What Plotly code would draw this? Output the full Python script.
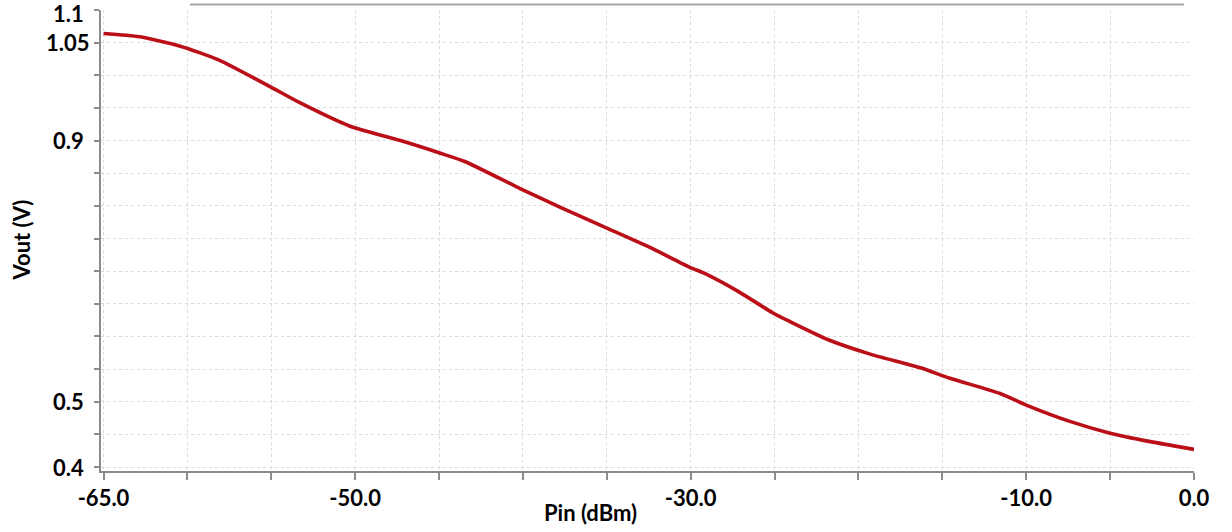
import plotly.graph_objects as go

# Data
pin_dbm = [-65.0, -62.85, -60.47, -58.08, -55.1, -53.3, -50.3, -47.3, -44.96, -43.47,
           -40.2, -37.8, -35.0, -32.4, -30.05, -29.2, -27.1, -25.1, -24.1, -21.8,
           -19.3, -16.3, -14.55, -11.6, -10.0, -7.4, -5.0, -2.6, 0.0]
vout_v = [1.064, 1.059, 1.045, 1.023, 0.983, 0.958, 0.922, 0.900, 0.881, 0.868,
          0.827, 0.798, 0.766, 0.736, 0.706, 0.697, 0.668, 0.636, 0.623, 0.595,
          0.573, 0.552, 0.536, 0.513, 0.495, 0.470, 0.452, 0.439, 0.427]

x_tick_vals = [-65, -60, -55, -50, -45, -40, -35, -30, -25, -20, -15, -10, -5, 0]
x_tick_text = ["-65.0", "", "", "-50.0", "", "", "", "-30.0", "", "", "", "-10.0", "", "0.0"]
y_tick_vals = [0.4, 0.45, 0.5, 0.55, 0.6, 0.65, 0.7, 0.75, 0.8, 0.85, 0.9, 0.95, 1.0, 1.05, 1.1]
y_label_vals = [0.4, 0.5, 0.9, 1.05, 1.1]
y_label_text = ["0.4", "0.5", "0.9", "1.05", "1.1"]

FONT = "Lato"
FS = 22
fig = go.Figure()
fig.add_trace(go.Scatter(x=pin_dbm, y=vout_v, mode="lines",
                         line=dict(color="#bb0f17", width=3.6, shape="spline", smoothing=0.6),
                         showlegend=False, hoverinfo="skip"))

fig.update_layout(
    width=1232, height=532,
    margin=dict(l=101, r=38, t=10, b=61),
    paper_bgcolor="white", plot_bgcolor="white",
    font=dict(family=FONT, size=FS, color="black", weight="bold"),
)
fig.update_xaxes(
    range=[-65.15, 0], tickvals=x_tick_vals, ticktext=x_tick_text,
    showgrid=True, gridcolor="#dcdcdc", griddash="dot", gridwidth=1,
    showline=True, linecolor="#8c8c8c", linewidth=1.5,
    ticks="outside", ticklen=7, tickcolor="#8c8c8c", tickwidth=1.5,
    tickfont=dict(family=FONT, size=FS, weight="bold", color="black"),
    zeroline=False,
)
fig.update_yaxes(
    range=[0.394, 1.1], tickvals=y_tick_vals, showticklabels=False,
    showgrid=True, gridcolor="#dcdcdc", griddash="dot", gridwidth=1,
    showline=True, linecolor="#8c8c8c", linewidth=1.5,
    ticks="outside", ticklen=5, tickcolor="#8c8c8c", tickwidth=1.5,
    zeroline=False,
)
for v, t in zip(y_label_vals, y_label_text):
    fig.add_annotation(x=0, xref="paper", y=v, yref="y", text=t, showarrow=False,
                       xanchor="center", yanchor="middle", xshift=-33,
                       yshift=-3 if v == 1.1 else 0,
                       font=dict(family=FONT, size=FS, weight="bold", color="black"))

fig.add_annotation(x=0, xref="paper", xshift=-80, y=0.5, yref="paper", text="Vout (V)",
                   textangle=-90, showarrow=False, xanchor="center", yanchor="middle",
                   font=dict(family=FONT, size=FS, weight="bold", color="black"))
fig.add_annotation(x=-36.0, xref="x", y=0, yref="paper", yshift=-41, text="Pin (dBm)",
                   showarrow=False, xanchor="center", yanchor="middle",
                   font=dict(family=FONT, size=FS, weight="bold", color="black"))

# thin grey line at the top
fig.add_shape(type="line", xref="paper", yref="paper",
              x0=(190 - 101) / 1093, x1=(1184 - 101) / 1093,
              y0=1 + 5.5 / 461, y1=1 + 5.5 / 461,
              line=dict(color="#a6a6a6", width=2))

fig.write_html("out.html")
